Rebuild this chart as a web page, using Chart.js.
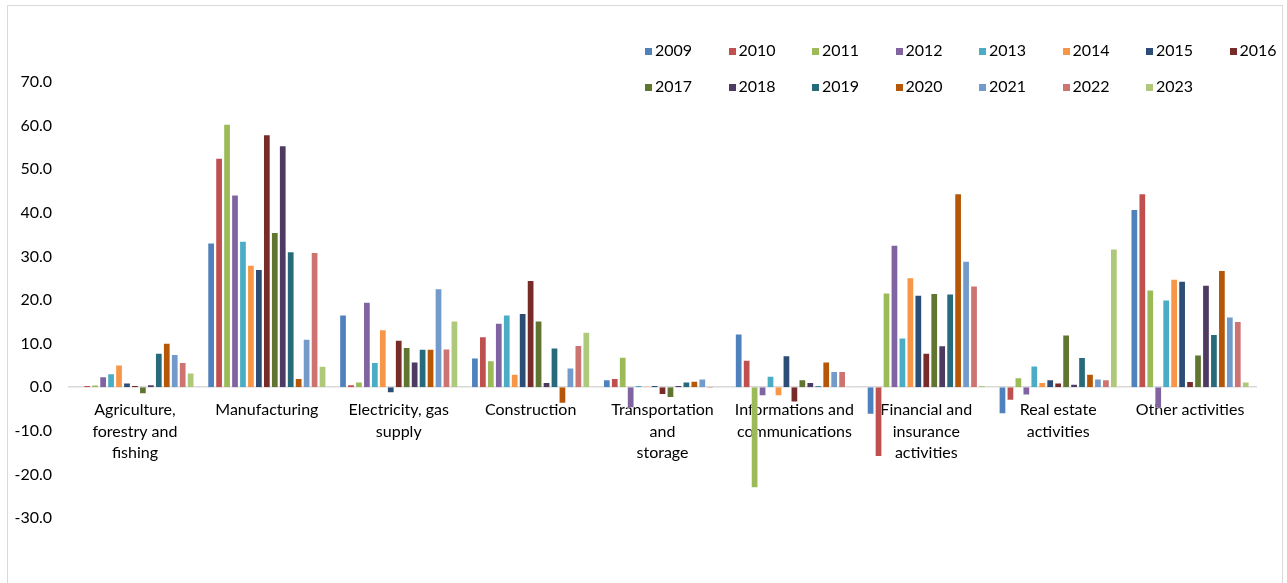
<!DOCTYPE html>
<html>
<head>
<meta charset="utf-8">
<script src="https://cdn.jsdelivr.net/npm/chart.js@4/dist/chart.umd.min.js"></script>
<style>
  html, body { margin: 0; padding: 0; background: #fff; }
  #wrap { position: relative; width: 1287px; height: 583px; overflow: hidden; }
  #frame { position: absolute; left: 7px; top: 5px; width: 1276px; height: 600px; border: 1px solid #D9D9D9; box-sizing: border-box; }
  #chart { position: absolute; left: 0; top: 0; }
  #legend { position: absolute; left: 0; top: 0; width: 1287px; height: 110px; font-family: Lato, sans-serif; font-size: 16px; color: #000; }
  .item { position: absolute; white-space: nowrap; line-height: 18px; height: 18px; }
  .box { display: inline-block; width: 7px; height: 7px; margin-right: 3px; vertical-align: 1px; }
</style>
</head>
<body>
<div id="wrap">
  <div id="frame"></div>
  <canvas id="chart" width="1287" height="583"></canvas>
  <div id="legend"></div>
</div>
<script>
// Sectors (multi-line labels)
const categories = [
  ["Agriculture,", "forestry and", "fishing"],
  "Manufacturing",
  ["Electricity, gas", "supply"],
  "Construction",
  ["Transportation", "and", "storage"],
  ["Informations and", "communications"],
  ["Financial and", "insurance", "activities"],
  ["Real estate", "activities"],
  "Other activities"
];

const years = ["2009", "2010", "2011", "2012", "2013", "2014", "2015", "2016",
               "2017", "2018", "2019", "2020", "2021", "2022", "2023"];

const colors = ["#4F81BD", "#C0504D", "#9BBB59", "#8064A2", "#4BACC6", "#F79646", "#2C4D75", "#772C2A",
                "#5F7530", "#4D3B62", "#276A7C", "#B65708", "#729ACA", "#CD7371", "#AFC97A"];

// Values per year, in sector order
const v2009 = [0.0, 33.2, 16.7, 6.8, 1.8, 12.3, -6.3, -6.2, 40.9];
const v2010 = [0.5, 52.6, 0.7, 11.7, 2.1, 6.3, -16.0, -3.1, 44.5];
const v2011 = [0.6, 60.4, 1.3, 6.2, 7.0, -23.2, 21.7, 2.3, 22.4];
const v2012 = [2.5, 44.2, 19.6, 14.8, -4.8, -2.1, 32.7, -1.9, -4.8];
const v2013 = [3.2, 33.6, 5.8, 16.7, 0.5, 2.6, 11.4, 5.0, 20.1];
const v2014 = [5.2, 28.1, 13.3, 3.1, 0.2, -2.1, 25.2, 1.2, 24.9];
const v2015 = [1.1, 27.1, -1.4, 17.0, 0.5, 7.3, 21.2, 1.8, 24.4];
const v2016 = [0.5, 58.0, 10.9, 24.6, -1.8, -3.5, 7.9, 1.1, 1.4];
const v2017 = [-1.6, 35.6, 9.2, 15.3, -2.5, 1.8, 21.6, 12.1, 7.5];
const v2018 = [0.7, 55.5, 5.9, 1.2, 0.5, 1.2, 9.6, 0.8, 23.5];
const v2019 = [7.9, 31.2, 8.8, 9.1, 1.3, 0.4, 21.5, 6.9, 12.2];
const v2020 = [10.2, 2.1, 8.8, -3.8, 1.5, 5.9, 44.5, 3.1, 26.9];
const v2021 = [7.6, 11.1, 22.7, 4.5, 2.0, 3.7, 29.0, 2.0, 16.2];
const v2022 = [5.8, 31.0, 8.9, 9.7, -0.3, 3.7, 23.3, 1.8, 15.2];
const v2023 = [3.4, 4.9, 15.3, 12.7, 0.1, 0.1, 0.5, 31.8, 1.3];

const series = [v2009, v2010, v2011, v2012, v2013, v2014, v2015, v2016,
                v2017, v2018, v2019, v2020, v2021, v2022, v2023];

const yTicks = [70, 60, 50, 40, 30, 20, 10, 0, -10, -20, -30];

const FONT = { family: "Lato, sans-serif", size: 16 };

const datasets = years.map((y, i) => ({
  label: y,
  data: series[i],
  backgroundColor: colors[i],
  borderColor: "rgba(255,255,255,0.55)",
  borderWidth: 1,
  categoryPercentage: 0.905,
  barPercentage: 0.97
}));

new Chart(document.getElementById("chart"), {
  type: "bar",
  data: { labels: categories, datasets },
  options: {
    responsive: false,
    animation: false,
    layout: { padding: { left: 0, right: 31, top: 82, bottom: 65 } },
    plugins: { legend: { display: false }, tooltip: { enabled: false } },
    scales: {
      x: {
        position: { y: 0 },
        grid: { display: false, drawTicks: false },
        border: { display: true, color: "#D9D9D9", width: 1.5 },
        ticks: {
          color: "#000",
          font: { family: "Lato, sans-serif", size: 16, lineHeight: 1.35 },
          padding: 12,
          maxRotation: 0,
          autoSkip: false
        }
      },
      y: {
        min: Math.min(...yTicks),
        max: Math.max(...yTicks),
        afterFit: s => { s.width = 69; },
        afterBuildTicks: s => { s.ticks = yTicks.map(v => ({ value: v })); },
        grid: { display: false, drawTicks: false },
        border: { display: false },
        ticks: {
          color: "#000",
          font: FONT,
          padding: 17,
          callback: v => Number(v).toFixed(1)
        }
      }
    }
  }
});

// Legend: two rows, 8 + 7 items
const legend = document.getElementById("legend");
years.forEach((y, i) => {
  const row = i < 8 ? 0 : 1;
  const col = i < 8 ? i : i - 8;
  const el = document.createElement("div");
  el.className = "item";
  el.style.left = (645 + col * 83.5) + "px";
  el.style.top = (row === 0 ? 41 : 77) + "px";
  const box = document.createElement("span");
  box.className = "box";
  box.style.background = colors[i];
  el.appendChild(box);
  el.appendChild(document.createTextNode(y));
  legend.appendChild(el);
});
</script>
</body>
</html>
